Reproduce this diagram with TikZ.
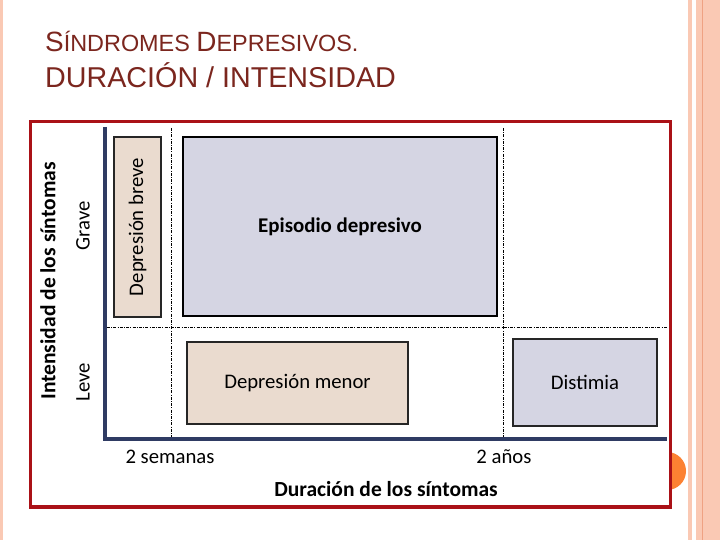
\documentclass[tikz,border=0pt]{standalone}
\usepackage{fontspec}
\setmainfont{Carlito}
\newfontfamily\titlefont{Liberation Sans}

\definecolor{titlered}{HTML}{7B261E}
\definecolor{framered}{HTML}{AA1117}
\definecolor{axisnavy}{HTML}{2F3B63}
\definecolor{boxbeige}{HTML}{EADBCF}
\definecolor{boxlilac}{HTML}{D5D5E3}
\definecolor{stripe}{HTML}{FAC9B4}
\definecolor{stripedark}{HTML}{EFA283}
\definecolor{dotorange}{HTML}{FC8132}

\begin{document}
\begin{tikzpicture}[x=1bp,y=-1bp,
  lbl/.style={font=\fontsize{20.8}{24}\selectfont, inner sep=0pt},
  boldlbl/.style={font=\fontsize{21.6}{24}\selectfont\bfseries, inner sep=0pt},
  beigebox/.style={draw=black!85, line width=1.3bp, fill=boxbeige, inner sep=0pt,
    font=\fontsize{20.8}{24}\selectfont},
  lilacbox/.style={draw=black!85, line width=1.3bp, fill=boxlilac, inner sep=0pt,
    font=\fontsize{20.8}{24}\selectfont},
  axis/.style={draw=axisnavy, line width=4.5bp},
  guide/.style={line width=1bp, dash pattern=on 3bp off 1.2bp on 1bp off 1.2bp}]
\useasboundingbox (0,0) rectangle (720,540);

% slide background and side stripes
\fill[white] (0,0) rectangle (720,540);
\fill[stripe] (0,0) rectangle (3,540);
\fill[stripe] (688,0) rectangle (692,540);
\fill[stripe] (696,0) rectangle (720,540);
\draw[stripedark, line width=1bp] (702,0) -- (702,540);
\fill[dotorange] (667,471) circle[radius=19];

% title
\node[anchor=base west, inner sep=0pt, text=titlered] at (45,52) (title1)
  {\titlefont{\fontsize{28}{30}\selectfont S}{\fontsize{23.5}{26}\selectfont ÍNDROMES }{\fontsize{28}{30}\selectfont D}{\fontsize{23.5}{26}\selectfont EPRESIVOS.}};
\node[anchor=base west, inner sep=0pt, text=titlered] at (45,88) (title2)
  {\titlefont\fontsize{28.8}{30}\selectfont DURACIÓN / INTENSIDAD};

% red frame
\draw[framered, line width=3.5bp, fill=white] (30.5,121.5) rectangle (670.5,507);

% guide lines: 2 semanas, 2 anos, grave/leve
\coordinate (wk) at (171,437);
\coordinate (yr) at (503,437);
\coordinate (mid) at (667,327);
\draw[guide] (171,128) -- (wk);
\draw[guide] (503,128) -- (yr);
\draw[guide] (107,327) -- (mid);

% axes
\coordinate (ytop) at (105,127);
\coordinate (origin) at (105,439);
\coordinate (xend) at (667,439);
\draw[axis] (ytop) -- (origin) -- (xend);

% boxes
\node[beigebox, rotate=90, minimum width=180bp, minimum height=47bp] at (137.5,227) (breve) {Depresión breve};
\node[lilacbox, line width=2bp, draw=black, minimum width=314bp, minimum height=179bp,
  font=\fontsize{21}{24}\selectfont\bfseries] at (340,226.5) (episodio) {Episodio depresivo};
\node[beigebox, minimum width=221bp, minimum height=82bp] at (297.5,383) (menor) {Depresión menor};
\node[lilacbox, minimum width=144bp, minimum height=87bp] at (585,382.5) (distimia) {Distimia};

% axis labels
\node[boldlbl, rotate=90] at (48,281) (intens) {Intensidad de los síntomas};
\node[lbl, rotate=90] at (83,226) (grave) {Grave};
\node[lbl, rotate=90] at (83,382) (leve) {Leve};
\node[lbl] at (170,457) (sem) {2 semanas};
\node[lbl] at (504,457) (anos) {2 años};
\node[boldlbl] at (386,489) (durac) {Duración de los síntomas};

\end{tikzpicture}
\end{document}
